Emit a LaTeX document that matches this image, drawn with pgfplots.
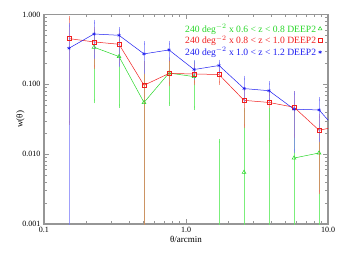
\documentclass[border=0pt]{standalone}
\usepackage{fontspec}
\setmainfont{Liberation Serif}
\usepackage{pgfplots}
\pgfplotsset{compat=1.18}
\usepackage{pgfplotstable}
\definecolor{cg}{RGB}{40,215,40}
\definecolor{cr}{RGB}{240,30,30}
\definecolor{cb}{RGB}{30,30,240}
\definecolor{eg}{RGB}{100,235,100}
\definecolor{er}{RGB}{240,110,90}
\definecolor{eb}{RGB}{120,120,250}
\definecolor{axgray}{RGB}{150,150,150}

% x y ep em
\pgfplotstableread{
x y ep em
0.150 0.329 0.381 0.3289
0.225 0.526 0.264 0.276
0.3375 0.504 0.106 0.314
0.506 0.273 0.117 0.121
0.759 0.311 0.084 0.082
1.139 0.163 0.049 0.038
1.709 0.186 0.026 0.038
2.563 0.087 0.038 0.027
3.844 0.081 0.023 0.021
5.767 0.044 0.031 0.033
8.65 0.043 0.018 0.027
12.97 0.017 0 0
}\blue
\pgfplotstableread{
x y ep em
0.150 0.452 0.428 0.424
0.225 0.405 0.225 0.225
0.3375 0.375 0.165 0.179
0.506 0.097 0.103 0.0969
0.759 0.143 0.077 0.043
1.139 0.141 0.049 0.037
1.709 0.138 0.024 0.034
2.563 0.059 0.026 0.034
3.844 0.055 0.017 0.039
5.767 0.047 0.028 0.029
8.65 0.022 0.013 0.0191
12.97 0.026 0 0
}\red
\pgfplotstableread{
x y ep em
0.225 0.34 0.21 0.283
0.3375 0.25 0.17 0.201
0.506 0.055 0.145 0.0549
0.759 0.145 0.075 0.092
1.139 0.129 0.071 0.083
1.709 nan 0 0
2.563 0.0055 0.0375 0.0054
3.844 nan 0 0
5.767 0.0088 0.031 0.0087
8.65 0.0104 0.0146 0.0103
}\green
\pgfplotstableread{
x y ep em
1.709 0.0155 0 0.0154
3.844 0.043 0 0.0429
}\greenneg

\begin{document}
\begin{tikzpicture}
\begin{loglogaxis}[
  scale only axis,
  width=284pt, height=209.5pt,
  xmin=0.1, xmax=10, ymin=0.001, ymax=1,
  xtick={0.1,1,10}, xticklabels={0.1,1.0,10.0},
  ytick={0.001,0.01,0.1,1}, yticklabels={0.001,0.010,0.100,1.000},
  tick pos=both, tick align=inside,
  major tick length=5pt, minor tick length=2.8pt,
  axis line style={axgray, line width=1.1pt},
  every tick/.style={axgray, line width=0.6pt},
  tick label style={font=\fontsize{8}{9}\selectfont},
  label style={font=\fontsize{9}{10}\selectfont},
  xlabel={θ/arcmin}, ylabel={w(θ)},
  xlabel style={yshift=4pt},
  ylabel style={yshift=-9pt},
  unbounded coords=jump,
  clip=true,
  legend plot pos=right,
  legend cell align=right,
  legend style={at={(0.98,0.965)}, anchor=north east, draw=none, fill=none,
    inner sep=0pt, font=\fontsize{9.6}{10}\selectfont, row sep=-2pt},
  legend image code/.code={\draw[#1, only marks] plot coordinates {(0.1cm,0cm)};},
  error bars/y dir=both, error bars/y explicit,
]
% green
\addplot[cg, line width=0.5pt, mark=triangle, mark size=2.2pt,
  error bars/error bar style={eg, line width=0.8pt, opacity=0.85},
  error bars/error mark options={eg, mark size=2pt, opacity=0.85}]
  table[x=x, y=y, y error plus=ep, y error minus=em]{\green};
\addlegendentry{\textcolor{cg}{240 deg$^{-2}$ x 0.6 < z < 0.8 DEEP2}}
% red
\addplot[cr, line width=0.5pt, mark=square, mark size=2pt,
  error bars/error bar style={er, line width=0.8pt, opacity=0.7},
  error bars/error mark options={er, mark size=2pt, opacity=0.7}]
  table[x=x, y=y, y error plus=ep, y error minus=em]{\red};
\addlegendentry{\textcolor{cr}{240 deg$^{-2}$ x 0.8 < z < 1.0 DEEP2}}
% blue
\addplot[cb, line width=0.5pt, mark=asterisk, mark size=1.8pt,
  error bars/error bar style={eb, line width=0.8pt, opacity=0.7},
  error bars/error mark options={eb, mark size=2pt, opacity=0.7}]
  table[x=x, y=y, y error plus=ep, y error minus=em]{\blue};
\addlegendentry{\textcolor{cb}{240 deg$^{-2}$ x 1.0 < z < 1.2 DEEP2}}
% green error bars of negative points (no marker)
\addplot[eg, only marks, mark=*, mark size=0pt, forget plot,
  error bars/error bar style={eg, line width=0.8pt, opacity=0.85},
  error bars/error mark options={eg, mark size=2pt, opacity=0.85}]
  table[x=x, y=y, y error plus=ep, y error minus=em]{\greenneg};
\coordinate (sw) at (rel axis cs:0,0);
\coordinate (ne) at (rel axis cs:1,1);
\end{loglogaxis}
\pgfresetboundingbox
\path[use as bounding box] ([xshift=-44pt,yshift=-28pt]sw) rectangle ([xshift=14pt,yshift=14.5pt]ne);
\end{tikzpicture}
\end{document}
